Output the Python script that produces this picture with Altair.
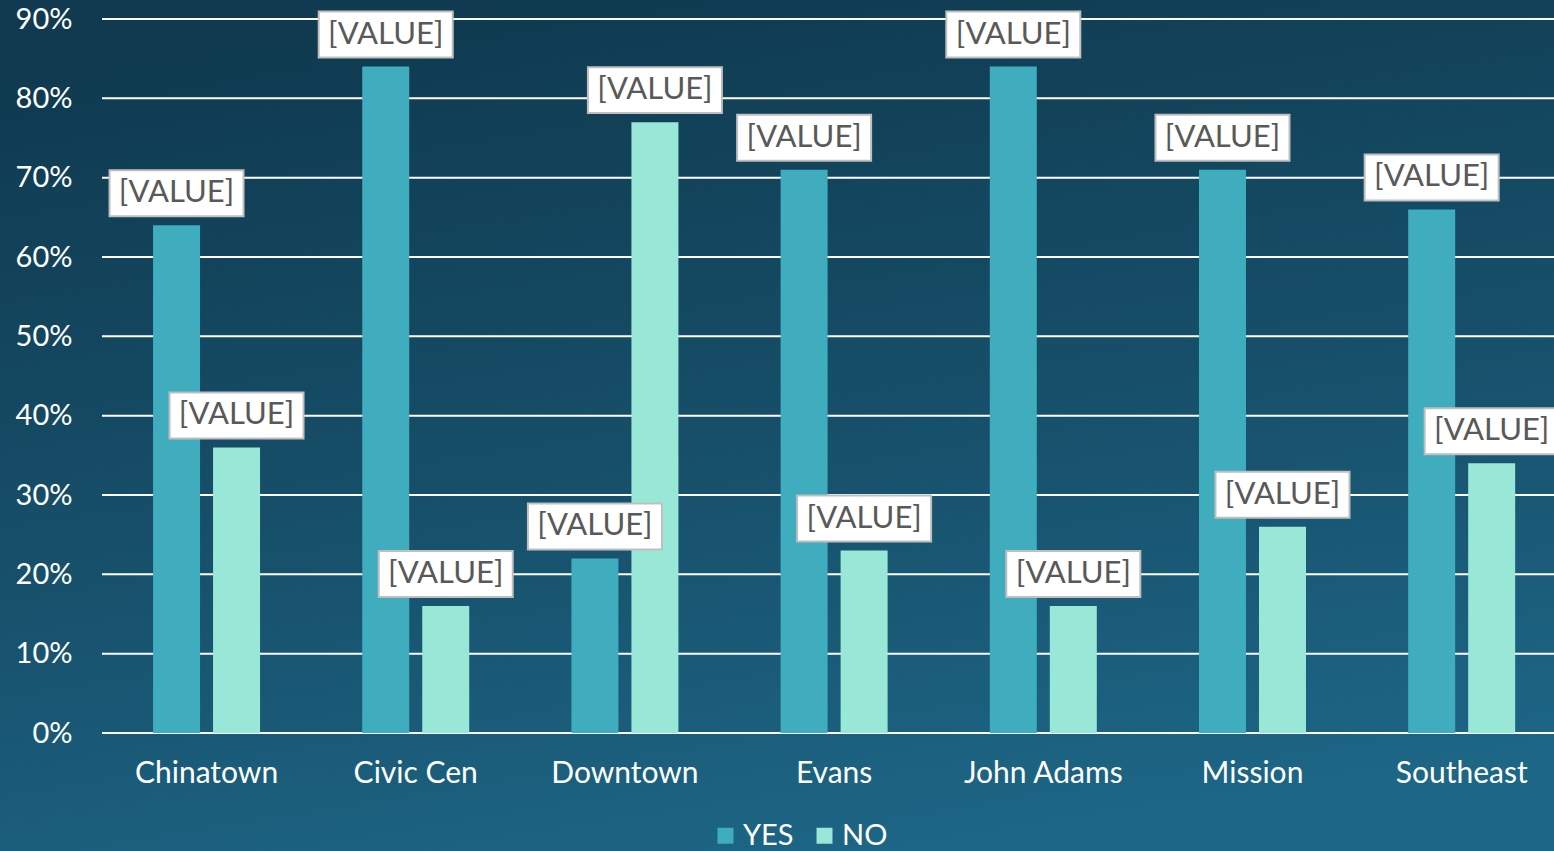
import altair as alt
import pandas as pd

categories = ["Chinatown", "Civic Cen", "Downtown", "Evans", "John Adams", "Mission", "Southeast"]
series = ["YES", "NO"]
yes_values = [0.64, 0.84, 0.22, 0.71, 0.84, 0.71, 0.66]
no_values = [0.36, 0.16, 0.77, 0.23, 0.16, 0.26, 0.34]
y_ticks = [0.0, 0.1, 0.2, 0.3, 0.4, 0.5, 0.6, 0.7, 0.8, 0.9]
label_text = "[VALUE]"

rows = []
for c, y, n in zip(categories, yes_values, no_values):
    rows.append({"cat": c, "series": "YES", "value": y})
    rows.append({"cat": c, "series": "NO", "value": n})
df = pd.DataFrame(rows)
grid_df = pd.DataFrame({"value": y_ticks})
bg_df = pd.DataFrame({"a": [0]})

W, H = 1452, 714
PAD_L, PAD_T, PAD_B = 102, 19, 118
FONT = "Lato"
YES_C, NO_C = "#3FADBE", "#98E7D7"

y_scale = alt.Scale(domain=[0, 0.9], nice=False, zero=True)
y_axis = alt.Axis(title=None, format=".0%", values=y_ticks, labelFontSize=29,
                  labelColor="white", labelFont=FONT, domain=False, ticks=False,
                  grid=False, labelPadding=30, zindex=1)
x_enc = alt.X("cat:N", sort=categories,
              scale=alt.Scale(paddingInner=0.4885, paddingOuter=0.2148, align=0.568),
              axis=alt.Axis(title=None, labelAngle=0, labelFontSize=30, labelColor="white",
                            labelFont=FONT, domain=False, ticks=False, grid=False,
                            labelPadding=25, zindex=1))
xo_enc = alt.XOffset("series:N", sort=series,
                     scale=alt.Scale(domain=series, paddingInner=0.2167, paddingOuter=0))

background = alt.Chart(bg_df).mark_rect(
    color=alt.Gradient(gradient="linear", x1=0.3, y1=0, x2=0.6, y2=1,
                       stops=[alt.GradientStop(color="#0F3A50", offset=0),
                              alt.GradientStop(color="#17506B", offset=0.55),
                              alt.GradientStop(color="#1D6686", offset=1)])
).encode(x=alt.value(-PAD_L), x2=alt.value(W + 10),
         y=alt.value(-PAD_T), y2=alt.value(H + PAD_B))

grid = alt.Chart(grid_df).mark_rule(color="white", strokeWidth=2).encode(
    y=alt.Y("value:Q", scale=y_scale, axis=y_axis)
)

bars = alt.Chart(df).mark_bar().encode(
    x=x_enc,
    xOffset=xo_enc,
    y=alt.Y("value:Q", scale=y_scale, axis=y_axis),
    color=alt.Color("series:N", sort=series,
                    scale=alt.Scale(domain=series, range=[YES_C, NO_C]),
                    legend=alt.Legend(orient="none", legendX=609, legendY=802,
                                      direction="horizontal", title=None,
                                      symbolType="square", symbolSize=256,
                                      symbolStrokeWidth=0, labelFontSize=29,
                                      labelColor="white", labelFont=FONT,
                                      labelOffset=3, columnPadding=16, zindex=1)),
)

boxes = alt.Chart(df).mark_point(
    shape="M-1,-0.343H1V0.343H-1Z", size=134 ** 2, filled=True, fill="white",
    stroke="#BFBFBF", strokeWidth=2, opacity=1, yOffset=-32
).encode(x=alt.X("cat:N", sort=categories), xOffset=alt.XOffset("series:N", sort=series),
         y=alt.Y("value:Q", scale=y_scale))

texts = alt.Chart(df).mark_text(
    text=label_text, fontSize=31, color="#595959", font=FONT, baseline="middle",
    align="center", yOffset=-32
).encode(x=alt.X("cat:N", sort=categories), xOffset=alt.XOffset("series:N", sort=series),
         y=alt.Y("value:Q", scale=y_scale))

chart = alt.layer(background, grid, bars, boxes, texts).properties(
    width=W, height=H,
    autosize=alt.AutoSizeParams(type="none"),
    padding={"left": PAD_L, "top": PAD_T, "right": 0, "bottom": PAD_B},
    background="#164A63",
).configure_view(stroke=None)

chart.save("out.html", embed_options={"renderer": "svg", "actions": False})
